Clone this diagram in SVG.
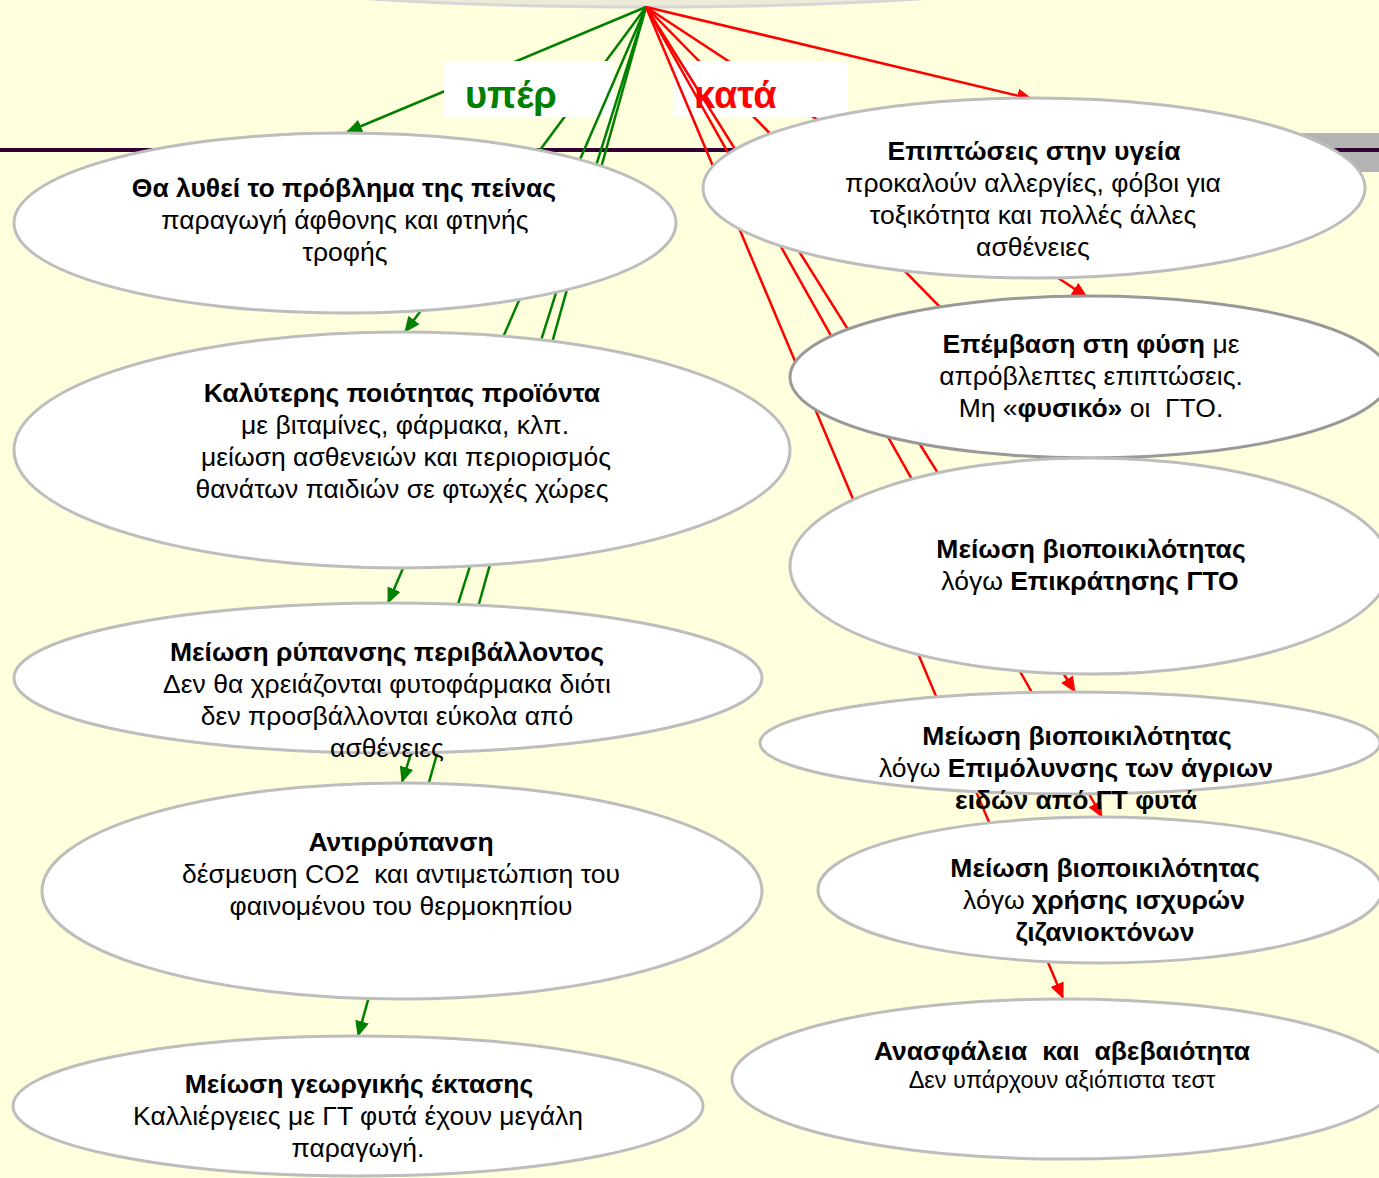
<svg xmlns="http://www.w3.org/2000/svg" width="1379" height="1178" viewBox="0 0 1379 1178">
<defs>
<style>
text{font-family:"Liberation Sans",Arial,sans-serif;font-size:26.5px;fill:#000;text-anchor:middle;white-space:pre}
.b{font-weight:bold}
.node{fill:#fff;stroke:#BDBDBD;stroke-width:3}
.node2{fill:#fff;stroke:#999;stroke-width:3}
.g{stroke:#008000;stroke-width:2.5;fill:none}
.r{stroke:#FF0000;stroke-width:2.5;fill:none}
.lbl{font-size:38px;font-weight:bold;text-anchor:start}
</style>
<marker id="ag" viewBox="0 0 16 14" refX="15" refY="7" markerWidth="16" markerHeight="14" markerUnits="userSpaceOnUse" orient="auto"><path d="M0,0 L16,7 L0,14 Z" fill="#008000"/></marker>
<marker id="ar" viewBox="0 0 16 14" refX="15" refY="7" markerWidth="16" markerHeight="14" markerUnits="userSpaceOnUse" orient="auto"><path d="M0,0 L16,7 L0,14 Z" fill="#FF0000"/></marker>
</defs>
<rect width="1379" height="1178" fill="#FFFFDD"/>
<ellipse id="top" cx="645" cy="-43" rx="500" ry="50" fill="#EBEBD8" stroke="#D6D6D6" stroke-width="3"/>
<rect x="1250" y="133" width="129" height="39" fill="#B3B3B3"/>
<rect x="0" y="148" width="1379" height="4" fill="#330033"/>
<g id="connectors">
<g id="edges-back">
<line class="g" x1="646" y1="7" x2="347" y2="132" marker-end="url(#ag)"/>
<line class="g" x1="646" y1="7" x2="405" y2="332" marker-end="url(#ag)"/>
<line class="r" x1="646" y1="7" x2="1032" y2="99" marker-end="url(#ar)"/>
<line class="r" x1="646" y1="7" x2="1087" y2="297" marker-end="url(#ar)"/>
<line class="r" x1="646" y1="7" x2="1087" y2="457" marker-end="url(#ar)"/>
</g>
<g id="edge-labels">
<rect x="444" y="61" width="170" height="56" fill="#fff"/>
<text class="lbl" x="465" y="108" style="fill:#008000">υπέρ</text>
<rect x="673" y="61" width="175" height="56" fill="#fff"/>
<text class="lbl" x="694" y="108" style="fill:#FF0000">κατά</text>
</g>
<g id="edges-front">
<line class="g" x1="646" y1="7" x2="388" y2="603" marker-end="url(#ag)"/>
<line class="g" x1="646" y1="7" x2="402" y2="782" marker-end="url(#ag)"/>
<line class="g" x1="646" y1="7" x2="358" y2="1036" marker-end="url(#ag)"/>
<line class="r" x1="646" y1="7" x2="1075" y2="692" marker-end="url(#ar)"/>
<line class="r" x1="646" y1="7" x2="1102" y2="817" marker-end="url(#ar)"/>
<line class="r" x1="646" y1="7" x2="1063" y2="998" marker-end="url(#ar)"/>
</g>
</g>
<g id="n1">
<ellipse class="node" cx="345" cy="223" rx="331" ry="90"/>
<text class="b" x="344" y="197">Θα λυθεί το πρόβλημα της πείνας</text>
<text x="345" y="229">παραγωγή άφθονης και φτηνής</text>
<text x="345" y="261">τροφής</text>
</g>
<g id="n2">
<ellipse class="node" cx="402" cy="450" rx="388" ry="118"/>
<text class="b" x="402" y="402">Καλύτερης ποιότητας προϊόντα</text>
<text x="405" y="434">με βιταμίνες, φάρμακα, κλπ.</text>
<text x="406" y="466">μείωση ασθενειών και περιορισμός</text>
<text x="402" y="498">θανάτων παιδιών σε φτωχές χώρες</text>
</g>
<g id="n3">
<ellipse class="node" cx="388" cy="678" rx="374" ry="75"/>
<text class="b" x="387" y="661">Μείωση ρύπανσης περιβάλλοντος</text>
<text x="387" y="693">Δεν θα χρειάζονται φυτοφάρμακα διότι</text>
<text x="387" y="725">δεν προσβάλλονται εύκολα από</text>
<text x="387" y="757">ασθένειες</text>
</g>
<g id="n4">
<ellipse class="node" cx="402" cy="891" rx="360" ry="108"/>
<text class="b" x="401" y="851">Αντιρρύπανση</text>
<text x="401" y="883">δέσμευση CO2  και αντιμετώπιση του</text>
<text x="401" y="915">φαινομένου του θερμοκηπίου</text>
</g>
<g id="n5">
<ellipse class="node" cx="358" cy="1106" rx="345" ry="70"/>
<text class="b" x="359" y="1093">Μείωση γεωργικής έκτασης</text>
<text x="358" y="1125">Καλλιέργειες με ΓΤ φυτά έχουν μεγάλη</text>
<text x="358" y="1157">παραγωγή.</text>
</g>
<g id="r1">
<ellipse class="node" cx="1034" cy="188" rx="331" ry="90"/>
<text class="b" x="1034" y="160">Επιπτώσεις στην υγεία</text>
<text x="1033" y="192">προκαλούν αλλεργίες, φόβοι για</text>
<text x="1033" y="224">τοξικότητα και πολλές άλλες</text>
<text x="1033" y="256">ασθένειες</text>
</g>
<g id="r2">
<ellipse class="node2" cx="1090" cy="377" rx="300" ry="81"/>
<text x="1091" y="353"><tspan class="b">Επέμβαση στη φύση</tspan> με</text>
<text x="1091" y="385">απρόβλεπτες επιπτώσεις.</text>
<text x="1091" y="417">Μη «<tspan class="b">φυσικό»</tspan> οι  ΓΤΟ.</text>
</g>
<g id="r3">
<ellipse class="node" cx="1090" cy="566" rx="300" ry="108"/>
<text class="b" x="1091" y="558">Μείωση βιοποικιλότητας</text>
<text class="b" x="1090" y="590"><tspan style="font-weight:normal">λόγω </tspan>Επικράτησης ΓΤΟ</text>
</g>
<g id="r4">
<ellipse class="node" cx="1070" cy="743" rx="310" ry="51"/>
<text class="b" x="1077" y="745">Μείωση βιοποικιλότητας</text>
<text x="1076" y="777">λόγω <tspan class="b">Επιμόλυνσης των άγριων</tspan></text>
<text class="b" x="1076" y="809">ειδών από ΓΤ φυτά</text>
</g>
<g id="r5">
<ellipse class="node" cx="1100" cy="890" rx="282" ry="73"/>
<text class="b" x="1105" y="877">Μείωση βιοποικιλότητας</text>
<text x="1104" y="909">λόγω <tspan class="b">χρήσης ισχυρών</tspan></text>
<text class="b" x="1105" y="941">ζιζανιοκτόνων</text>
</g>
<g id="r6">
<ellipse class="node" cx="1065" cy="1079" rx="333" ry="80"/>
<text class="b" x="1062" y="1060">Ανασφάλεια  και  αβεβαιότητα</text>
<text x="1062" y="1088" style="font-size:23.5px">Δεν υπάρχουν αξιόπιστα τεστ</text>
</g>
</svg>
